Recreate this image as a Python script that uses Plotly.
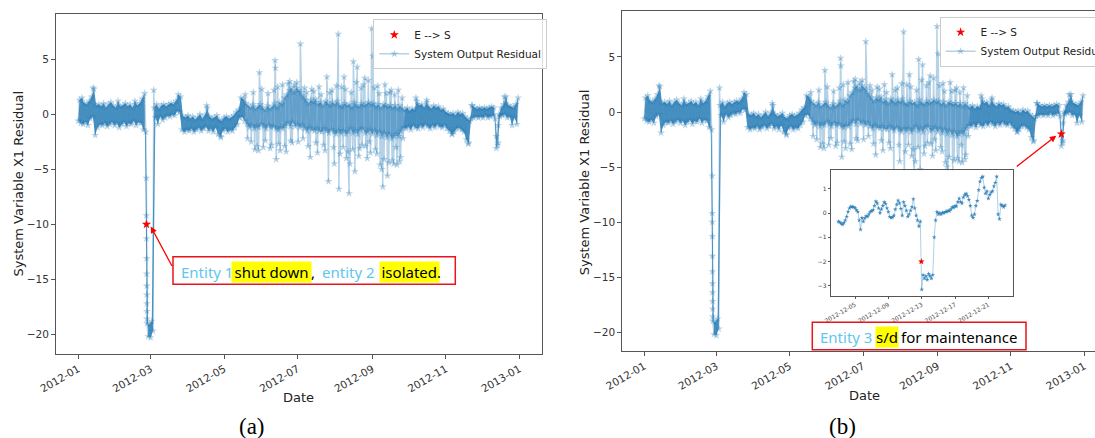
import pandas as pd
import plotly.graph_objects as go

# ---------------- data ----------------
BAND_START = "2012-01-01"   # band samples every 2 days: low at the date, high one day later
band_lo = [
    -0.6, -0.8, -0.9, -0.7, -1.0, -0.4, -0.2, -1.9, -1.2, -0.9,
    -1.0, -0.8, -1.1, -0.9, -0.7, -1.0, -0.8, -1.2, -0.9, -0.7,
    -1.1, -0.8, -0.9, -0.6, -1.0, -0.7, -0.8, -1.4, -1.6, -20.2,
    -20.3, -19.7, -0.3, -0.9, -0.2, -0.5, -0.3, -0.1, -0.2, 0.0,
    -0.1, 0.3, 0.2, -1.4, -1.6, -1.4, -1.5, -1.3, -1.6, -1.4,
    -1.2, -1.5, -1.3, -1.1, -1.5, -1.3, -1.6, -1.2, -1.8, -2.0,
    -1.5, -1.3, -1.6, -1.4, -1.5, -1.2, -0.9, -0.3, -0.2, -0.6,
    -0.9, -1.2, -1.0, -1.3, -1.1, -1.2, -0.9, -1.1, -1.3, -1.0,
    -1.2, -1.1, -1.3, -1.4, -1.2, -1.3, -1.0, -0.8, -1.1, -0.7,
    -1.1, -0.9, -1.2, -1.0, -1.3, -1.5, -1.2, -1.4, -1.5, -1.3,
    -1.5, -1.6, -1.3, -1.5, -1.7, -1.4, -1.6, -1.8, -1.5, -1.7,
    -1.5, -1.8, -1.6, -1.3, -1.7, -1.5, -1.8, -1.4, -1.3, -1.7,
    -1.6, -1.4, -1.8, -1.5, -1.9, -1.6, -2.0, -1.7, -2.1, -1.8,
    -2.2, -2.0, -1.8, -2.0, -1.5, -1.2, -1.3, -1.1, -1.4, -1.0,
    -1.2, -1.3, -1.0, -1.2, -0.9, -1.1, -1.3, -1.0, -1.2, -0.9,
    -1.1, -1.2, -1.0, -1.3, -1.5, -1.8, -1.6, -1.3, -1.2, -1.4,
    -1.6, -2.3, -2.6, -0.4, -0.3, -0.2, -0.3, -0.2, -0.3, -0.1,
    -0.3, -0.2, -0.1, -0.4, -2.8, -0.2, -0.1, 0.0, -0.3, -0.2,
    -1.0, -0.3, -0.9,
]
band_hi = [
    1.3, 1.5, 1.0, 0.9, 1.2, 1.6, 2.3, 0.8, 0.9, 0.7,
    1.0, 0.6, 0.9, 1.1, 0.8, 0.6, 1.2, 0.7, 0.8, 1.0,
    0.7, 0.9, 0.6, 1.2, 0.8, 1.0, 1.4, 1.9, -19.0, -19.1,
    -18.8, 0.6, 0.9, 0.5, 0.8, 0.9, 0.7, 0.9, 1.0, 0.9,
    1.2, 1.8, 1.6, -0.2, -0.3, -0.1, -0.4, -0.2, -0.5, -0.3,
    0.0, -0.4, -0.1, 0.6, -0.2, -0.4, -0.3, -0.1, -0.5, -0.6,
    -0.3, -0.2, -0.4, -0.3, -0.1, 0.2, 0.4, 1.5, 1.4, 1.0,
    0.8, 0.6, 0.9, 0.5, 0.7, 0.9, 0.6, 0.4, 0.8, 0.5,
    0.7, 1.0, 0.6, 1.1, 0.9, 1.5, 1.8, 2.2, 2.4, 2.0,
    2.4, 2.2, 2.0, 1.6, 1.3, 1.0, 1.3, 1.1, 1.4, 0.9,
    1.1, 0.8, 1.2, 1.0, 0.8, 1.1, 0.9, 1.2, 0.8, 0.7,
    1.0, 0.8, 0.9, 0.6, 1.1, 0.8, 0.7, 1.0, 0.8, 0.9,
    1.1, 0.9, 1.0, 0.7, 0.9, 0.6, 0.9, 0.8, 0.7, 0.8,
    0.6, 0.8, 0.5, 0.8, 0.5, 0.4, 0.6, 0.3, 0.5, 0.4,
    1.2, 0.8, 0.9, 0.6, 1.1, 0.7, 0.5, 0.8, 0.6, 0.7,
    0.4, 0.5, 0.2, 0.1, 0.0, 0.1, -0.1, 0.2, 0.0, 0.1,
    -0.2, -0.4, -0.6, 0.8, 0.6, 0.5, 0.6, 0.5, 0.6, 0.5,
    0.6, 0.7, 0.6, -3.1, 0.0, 0.6, 0.9, 1.6, 0.8, 0.7,
    0.6, 0.9, 1.5,
]
# period where the residual is noisy (the band there is less dense)
NOISY_START, NOISY_END = "2012-05-19", "2012-09-28"

spike_times = [
    "2012-01-13 07:00", "2012-03-03 14:00", "2012-04-16 12:00", "2012-04-28 12:00",
    "2012-05-18 12:00", "2012-05-20 12:00", "2012-05-23 12:00", "2012-05-25 06:00",
    "2012-05-26 12:00", "2012-05-28 06:00", "2012-05-29 12:00", "2012-05-30 07:00",
    "2012-06-01 06:00", "2012-06-02 12:00", "2012-06-04 06:00", "2012-06-06 12:00",
    "2012-06-08 06:00", "2012-06-09 12:00", "2012-06-11 06:00", "2012-06-12 07:00",
    "2012-06-12 14:00", "2012-06-13 07:00", "2012-06-14 12:00", "2012-06-15 06:00",
    "2012-06-16 12:00", "2012-06-18 12:00", "2012-06-20 06:00", "2012-06-21 12:00",
    "2012-06-23 06:00", "2012-06-24 12:00", "2012-06-25 06:00", "2012-06-26 12:00",
    "2012-06-28 06:00", "2012-06-30 07:00", "2012-07-01 12:00", "2012-07-03 07:00",
    "2012-07-05 12:00", "2012-07-06 18:00", "2012-07-08 12:00", "2012-07-09 18:00",
    "2012-07-11 12:00", "2012-07-12 18:00", "2012-07-14 12:00", "2012-07-16 06:00",
    "2012-07-17 12:00", "2012-07-18 18:00", "2012-07-20 12:00", "2012-07-22 12:00",
    "2012-07-23 18:00", "2012-07-25 07:00", "2012-07-26 14:00", "2012-07-27 18:00",
    "2012-07-29 12:00", "2012-07-30 18:00", "2012-07-31 12:00", "2012-08-02 06:00",
    "2012-08-03 17:00", "2012-08-04 07:00", "2012-08-05 06:00", "2012-08-06 12:00",
    "2012-08-07 18:00", "2012-08-08 14:00", "2012-08-09 18:00", "2012-08-10 12:00",
    "2012-08-11 18:00", "2012-08-12 17:00", "2012-08-13 12:00", "2012-08-14 12:00",
    "2012-08-15 18:00", "2012-08-16 07:00", "2012-08-17 12:00", "2012-08-18 18:00",
    "2012-08-19 12:00", "2012-08-20 18:00", "2012-08-21 12:00", "2012-08-22 18:00",
    "2012-08-23 12:00", "2012-08-24 12:00", "2012-08-25 18:00", "2012-08-26 12:00",
    "2012-08-27 18:00", "2012-08-28 17:00", "2012-08-29 12:00", "2012-08-30 12:00",
    "2012-08-31 12:00", "2012-09-01 12:00", "2012-09-02 18:00", "2012-09-03 12:00",
    "2012-09-04 18:00", "2012-09-05 12:00", "2012-09-06 18:00", "2012-09-07 12:00",
    "2012-09-08 18:00", "2012-09-09 17:00", "2012-09-10 18:00", "2012-09-11 12:00",
    "2012-09-12 18:00", "2012-09-13 14:00", "2012-09-14 18:00", "2012-09-15 12:00",
    "2012-09-16 18:00", "2012-09-17 12:00", "2012-09-18 18:00", "2012-09-19 12:00",
    "2012-09-20 18:00", "2012-09-21 12:00", "2012-09-22 14:00", "2012-09-23 18:00",
    "2012-09-24 12:00", "2012-09-25 18:00", "2012-09-26 12:00", "2012-10-07 05:00",
    "2012-10-16 07:00", "2012-11-06 12:00", "2012-11-19 14:00", "2012-11-22 12:00",
    "2012-12-14 08:00", "2012-12-14 10:00", "2012-12-19 12:00",
]
spike_vals = [
    2.4, 2.2, 0.8, -2.1,
    1.8, -2.2, -2.5, 2.0,
    -3.2, -2.9, -3.3, 3.8,
    2.3, -3.0, -2.4, 1.9,
    -3.1, -2.8, 2.2, 4.9,
    4.2, -4.1, 2.5, -2.7,
    -3.3, 2.7, -2.9, -3.4,
    2.8, 3.0, -2.4, -2.6,
    2.7, 2.9, -2.5, 6.4,
    -2.2, 2.4, 2.0, -2.9,
    -3.9, 2.3, 2.1, -2.6,
    -3.5, 2.5, 1.8, -2.8,
    -3.3, 3.4, -6.1, 2.0,
    2.2, -3.0, -4.5, 2.6,
    7.3, -6.8, -3.6, 2.5,
    -3.0, 3.4, 2.3, -4.0,
    -3.4, -7.2, -4.5, 2.0,
    -3.2, 4.8, -5.2, 2.9,
    4.3, -3.8, -3.1, 2.4,
    -2.8, 2.7, 3.3, -2.9,
    -4.0, 3.1, -2.5, -3.5,
    7.8, 5.3, 2.4, -3.2,
    -3.6, 2.6, 1.9, -4.6,
    -5.0, -6.6, -4.1, 2.7,
    1.9, -5.6, -4.4, 2.0,
    2.2, -4.2, -4.5, 1.8,
    -3.0, -4.6, 2.2, -4.3,
    -3.9, 1.5, -2.2, 1.5,
    1.3, -1.8, -2.7, 0.8,
    -2.6, -1.0, 1.6,
]

drop_times = [
    "2012-02-26 12:00", "2012-02-26 13:00", "2012-02-26 15:00", "2012-02-26 16:00",
    "2012-02-26 17:00", "2012-02-26 18:00", "2012-02-26 19:00", "2012-02-26 20:00",
    "2012-02-26 21:00", "2012-02-26 22:00",
]
drop_vals = [-5.8, -9.2, -11.3, -13.1, -14.5, -15.6, -16.4, -17.2, -17.9, -18.6]

event_a_time = ["2012-02-26 14:00"]
event_a_val = [-10.0]
event_b_time = ["2012-12-12 23:00"]
event_b_val = [-2.0]

INSET_START = "2012-12-03"   # 4-hourly values shown in the inset
inset_vals = [
    -0.35, -0.38, -0.42, -0.48, -0.40, -0.30,
    -0.15, 0.05, 0.20, 0.27, 0.26, 0.24,
    0.22, 0.12, 0.05, -0.30, -0.68, -0.20,
    -0.35, -0.22, -0.12, -0.15, -0.05, 0.05,
    0.08, 0.12, 0.30, 0.48, 0.40, 0.20,
    0.00, 0.15, 0.30, 0.45, 0.38, 0.20,
    0.05, -0.15, -0.20, -0.18, -0.10, 0.15,
    0.35, 0.52, 0.40, 0.18, -0.10, 0.45,
    0.30, 0.10, -0.15, -0.05, 0.10, 0.25,
    0.58, 0.20, -0.10, -0.30, -0.55, -0.35,
    -3.15, -2.55, -2.70, -2.60, -2.75, -2.50,
    -2.60, -2.70, -2.55, -1.00, -0.30, 0.05,
    -0.05, 0.00, -0.05, 0.02, 0.00, 0.05,
    0.05, 0.10, 0.08, 0.15, 0.25, 0.22,
    0.30, 0.28, 0.45, 0.60, 0.45, 0.40,
    0.65, 0.75, 0.80, 0.70, 0.55, 0.30,
    -0.10, -0.20, -0.05, 0.30, 0.50, 0.95,
    1.30, 1.45, 1.50, 1.05, 0.80, 0.90,
    0.60, 0.75, 0.85, 0.90, 1.10, 1.25,
    1.50, -0.05, -0.25, 0.35, 0.30, 0.25,
    0.32,
]

# ---------------- build series ----------------
band_t = pd.date_range(BAND_START, periods=len(band_lo), freq="2D")
band_t_hi = band_t + pd.Timedelta(days=1)
series = pd.concat([
    pd.DataFrame({"t": band_t, "v": band_lo}),
    pd.DataFrame({"t": band_t_hi, "v": band_hi}),
    pd.DataFrame({"t": pd.to_datetime(spike_times), "v": spike_vals}),
    pd.DataFrame({"t": pd.to_datetime(drop_times), "v": drop_vals}),
    pd.DataFrame({"t": pd.to_datetime(event_a_time), "v": event_a_val}),
    pd.DataFrame({"t": pd.to_datetime(event_b_time), "v": event_b_val}),
]).sort_values("t", kind="stable")

band = pd.DataFrame({"t_lo": band_t, "lo": band_lo, "t_hi": band_t_hi, "hi": band_hi})
ns, ne = pd.Timestamp(NOISY_START), pd.Timestamp(NOISY_END)
seg_calm1 = band[band.t_lo <= ns]
seg_noisy = band[(band.t_hi >= ns - pd.Timedelta(days=1)) & (band.t_lo <= ne)]
seg_calm2 = band[band.t_hi >= ne]

def envelope(seg):
    return (list(seg.t_lo) + list(seg.t_hi[::-1]), list(seg.lo) + list(seg.hi[::-1]))

inset = pd.concat([
    pd.DataFrame({"t": pd.date_range(INSET_START, periods=len(inset_vals), freq="4h"), "v": inset_vals}),
    pd.DataFrame({"t": pd.to_datetime(event_b_time), "v": event_b_val}),
]).sort_values("t", kind="stable")

W, H = 1095, 438
def fx(p):
    return p / W
def fy(p):
    return 1 - p / H

BLUE_A = "rgba(31,119,180,0.33)"
fig = go.Figure()

for xa, ya, leg, ev_t, ev_v in [("x", "y", "legend", event_a_time, event_a_val),
                                ("x2", "y2", "legend2", event_b_time, event_b_val)]:
    for seg, alpha in [(seg_calm1, 0.74), (seg_noisy, 0.55), (seg_calm2, 0.74)]:
        ex, ey = envelope(seg)
        fig.add_trace(go.Scatter(
            x=ex, y=ey, mode="lines", fill="toself", fillcolor=f"rgba(31,119,180,{alpha})",
            line=dict(width=0, color="rgba(31,119,180,0)"), showlegend=False, hoverinfo="skip",
            xaxis=xa, yaxis=ya))
    fig.add_trace(go.Scatter(
        x=series["t"], y=series["v"], mode="lines+markers", name="System Output Residual",
        line=dict(color=BLUE_A, width=1.5),
        marker=dict(symbol="star", size=6, color=BLUE_A, line=dict(width=0)),
        xaxis=xa, yaxis=ya, legend=leg, legendrank=2))
    fig.add_trace(go.Scatter(
        x=pd.to_datetime(ev_t), y=ev_v, mode="markers", name="E --> S",
        marker=dict(symbol="star", size=7, color="red", line=dict(width=0)),
        xaxis=xa, yaxis=ya, legend=leg, legendrank=1))

fig.add_trace(go.Scatter(
    x=inset["t"], y=inset["v"], mode="lines+markers", showlegend=False,
    line=dict(color="rgba(31,119,180,0.35)", width=1),
    marker=dict(symbol="star", size=3.5, color="rgba(31,119,180,0.8)", line=dict(width=0)),
    xaxis="x3", yaxis="y3"))
fig.add_trace(go.Scatter(
    x=pd.to_datetime(event_b_time), y=event_b_val, mode="markers", showlegend=False,
    marker=dict(symbol="star", size=5, color="red", line=dict(width=0)),
    xaxis="x3", yaxis="y3"))

tickfont = dict(family="DejaVu Sans", size=10.5, color="#333")
axbase = dict(showgrid=False, zeroline=False, showline=True, linecolor="#555", linewidth=1,
              ticks="outside", ticklen=4, tickcolor="#555", tickfont=tickfont, automargin=False)
xdate = dict(axbase, type="date", tickformat="%Y-%m", dtick="M2", tick0="2012-01-01", tickangle=-30)
ylin = dict(axbase, dtick=5, tick0=0)

fig.update_layout(
    width=W, height=H, margin=dict(l=0, r=0, t=0, b=0, pad=0, autoexpand=False),
    paper_bgcolor="white", plot_bgcolor="white",
    xaxis=dict(xdate, domain=[fx(56), fx(542.3)], range=["2011-12-13 12:00", "2013-01-20 02:00"],
               mirror=True, anchor="y"),
    yaxis=dict(ylin, domain=[fy(354), fy(14)], range=[-21.79, 9.12], mirror=True, anchor="x"),
    xaxis2=dict(xdate, domain=[fx(622.2), 1.0], range=["2011-12-13 15:50", "2013-01-09 23:00"],
                mirror=True, anchor="y2"),
    yaxis2=dict(ylin, domain=[fy(351.3), fy(11)], range=[-21.75, 9.18], mirror=False, anchor="x2"),
    xaxis3=dict(axbase, type="date", domain=[fx(830.7), fx(1012.7)],
                range=["2012-12-02 02:00", "2012-12-23 22:00"], tickformat="%Y-%m-%d",
                dtick=4 * 86400000, tick0="2012-12-01", tickangle=-30, ticklen=2, mirror=True,
                anchor="y3", tickfont=dict(family="DejaVu Sans", size=6, color="#444")),
    yaxis3=dict(axbase, domain=[fy(296), fy(170.3)], range=[-3.42, 1.76], dtick=1, ticklen=2,
                mirror=True, anchor="x3", tickfont=dict(family="DejaVu Sans", size=6, color="#444")),
    legend=dict(x=fx(373.3), y=fy(19.3), xanchor="left", yanchor="top",
                bgcolor="rgba(255,255,255,0.8)", bordercolor="#cccccc", borderwidth=1,
                font=dict(family="DejaVu Sans", size=10.5, color="#222")),
    legend2=dict(x=fx(939.6), y=fy(16.7), xanchor="left", yanchor="top",
                 bgcolor="rgba(255,255,255,0.8)", bordercolor="#cccccc", borderwidth=1,
                 font=dict(family="DejaVu Sans", size=10.5, color="#222")),
)

ann = []
lab = dict(family="DejaVu Sans", size=13, color="#222")
def ctext(text, cx, cy, font, angle=0):
    ann.append(dict(text=text, textangle=angle, xref="paper", yref="paper", x=fx(cx), y=fy(cy),
                    xanchor="center", yanchor="middle", showarrow=False, font=font))

ctext("System Variable X1 Residual", 17.5, 184, lab, -90)
ctext("System Variable X1 Residual", 584.3, 182, lab, -90)
ctext("Date", 298.7, 397, lab)
ctext("Date", 864, 395, lab)
cap = dict(family="Liberation Serif", size=23, color="black")
ctext("(a)", 252, 426, cap)
ctext("(b)", 842.5, 426, cap)

LB = "#5FC6EE"
def piece(text, left, yc, color, hl=False):
    d = dict(text=text, xref="paper", yref="paper", x=fx(left), y=fy(yc), xanchor="left",
             yanchor="middle", showarrow=False, borderpad=0,
             font=dict(family="Noto Sans", size=15, color=color))
    if hl:
        d["bgcolor"] = "#FFFF00"
    ann.append(d)

piece("Entity 1", 180.0, 271.5, LB)
piece("\u2009shut down\u2009", 231.0, 271.5, "black", True)
piece(",", 309.5, 271.5, "black")
piece("entity 2", 320.5, 271.5, LB)
piece("\u200aisolated\u200a", 378.5, 271.5, "black", True)
piece(".", 436.5, 271.5, "black")

piece("Entity 3", 818.5, 336.5, LB)
piece("s/d", 874.8, 336.5, "black", True)
piece("for maintenance", 900.0, 336.5, "black")

# arrows
ann.append(dict(x="2012-03-01 04:00", y=-10.2, xref="x", yref="y", ax=22, ay=41,
                axref="pixel", ayref="pixel", text="", showarrow=True, arrowcolor="red",
                arrowwidth=1.3, arrowhead=2, arrowsize=1))
ann.append(dict(x="2012-12-08 17:00", y=-2.15, xref="x2", yref="y2", ax=-41, ay=32,
                axref="pixel", ayref="pixel", text="", showarrow=True, arrowcolor="red",
                arrowwidth=1.3, arrowhead=2, arrowsize=1))
fig.update_layout(annotations=ann)

shapes = [
    dict(type="rect", xref="paper", yref="paper", x0=fx(173), x1=fx(455.3), y0=fy(284.3), y1=fy(256.7),
         line=dict(color="#e8141b", width=1.5), fillcolor="white", layer="above"),
    dict(type="rect", xref="paper", yref="paper", x0=fx(812.3), x1=fx(1026), y0=fy(349.7), y1=fy(322.3),
         line=dict(color="#e8141b", width=1.5), fillcolor="white", layer="above"),
]
fig.update_layout(shapes=shapes)

fig.write_html("out.html", config={"displayModeBar": False},
               post_script="document.body.style.margin='0px';document.body.style.padding='0px';")
